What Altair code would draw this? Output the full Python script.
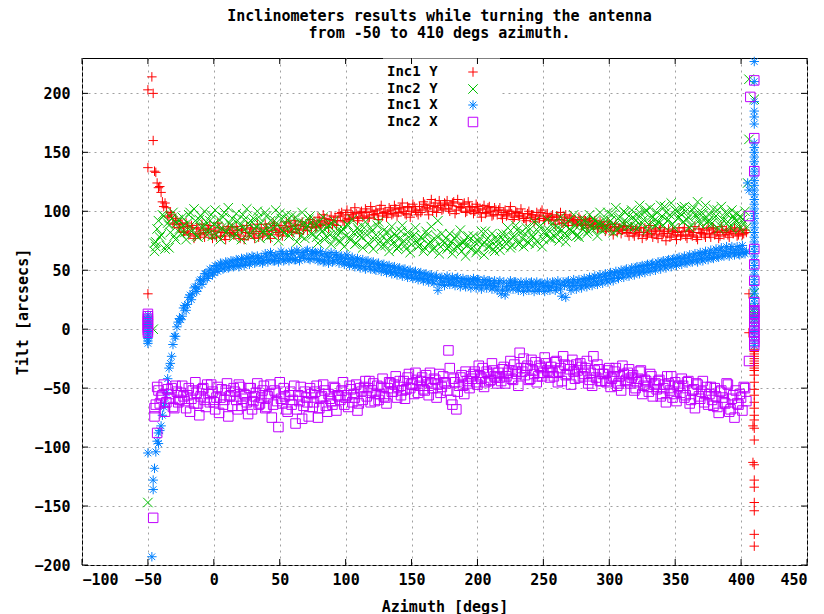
import altair as alt
import pandas as pd

# ---------------- data ----------------
series_names = ["Inc1 Y", "Inc2 Y", "Inc1 X", "Inc2 X"]
series_colors = ["#ff0000", "#00c000", "#0080ff", "#c000ff"]

x_ticks = [-100, -50, 0, 50, 100, 150, 200, 250, 300, 350, 400, 450]
y_ticks = [-200, -150, -100, -50, 0, 50, 100, 150, 200]

# even-degree samples
az_grid = [
    -44, -42, -40, -38, -36, -34, -32, -30, -28, -26,
    -24, -22, -20, -18, -16, -14, -12, -10, -8, -6,
    -4, -2, 0, 2, 4, 6, 8, 10, 12, 14,
    16, 18, 20, 22, 24, 26, 28, 30, 32, 34,
    36, 38, 40, 42, 44, 46, 48, 50, 52, 54,
    56, 58, 60, 62, 64, 66, 68, 70, 72, 74,
    76, 78, 80, 82, 84, 86, 88, 90, 92, 94,
    96, 98, 100, 102, 104, 106, 108, 110, 112, 114,
    116, 118, 120, 122, 124, 126, 128, 130, 132, 134,
    136, 138, 140, 142, 144, 146, 148, 150, 152, 154,
    156, 158, 160, 162, 164, 166, 168, 170, 172, 174,
    176, 178, 180, 182, 184, 186, 188, 190, 192, 194,
    196, 198, 200, 202, 204, 206, 208, 210, 212, 214,
    216, 218, 220, 222, 224, 226, 228, 230, 232, 234,
    236, 238, 240, 242, 244, 246, 248, 250, 252, 254,
    256, 258, 260, 262, 264, 266, 268, 270, 272, 274,
    276, 278, 280, 282, 284, 286, 288, 290, 292, 294,
    296, 298, 300, 302, 304, 306, 308, 310, 312, 314,
    316, 318, 320, 322, 324, 326, 328, 330, 332, 334,
    336, 338, 340, 342, 344, 346, 348, 350, 352, 354,
    356, 358, 360, 362, 364, 366, 368, 370, 372, 374,
    376, 378, 380, 382, 384, 386, 388, 390, 392, 394,
    396, 398, 400, 402, 404,
]

# odd-degree samples
az_grid_b = [
    -43, -41, -39, -37, -35, -33, -31, -29, -27, -25,
    -23, -21, -19, -17, -15, -13, -11, -9, -7, -5,
    -3, -1, 1, 3, 5, 7, 9, 11, 13, 15,
    17, 19, 21, 23, 25, 27, 29, 31, 33, 35,
    37, 39, 41, 43, 45, 47, 49, 51, 53, 55,
    57, 59, 61, 63, 65, 67, 69, 71, 73, 75,
    77, 79, 81, 83, 85, 87, 89, 91, 93, 95,
    97, 99, 101, 103, 105, 107, 109, 111, 113, 115,
    117, 119, 121, 123, 125, 127, 129, 131, 133, 135,
    137, 139, 141, 143, 145, 147, 149, 151, 153, 155,
    157, 159, 161, 163, 165, 167, 169, 171, 173, 175,
    177, 179, 181, 183, 185, 187, 189, 191, 193, 195,
    197, 199, 201, 203, 205, 207, 209, 211, 213, 215,
    217, 219, 221, 223, 225, 227, 229, 231, 233, 235,
    237, 239, 241, 243, 245, 247, 249, 251, 253, 255,
    257, 259, 261, 263, 265, 267, 269, 271, 273, 275,
    277, 279, 281, 283, 285, 287, 289, 291, 293, 295,
    297, 299, 301, 303, 305, 307, 309, 311, 313, 315,
    317, 319, 321, 323, 325, 327, 329, 331, 333, 335,
    337, 339, 341, 343, 345, 347, 349, 351, 353, 355,
    357, 359, 361, 363, 365, 367, 369, 371, 373, 375,
    377, 379, 381, 383, 385, 387, 389, 391, 393, 395,
    397, 399, 401, 403,
]

inc1y_main = [
    133, 120, 116, 104, 103, 95, 97, 89, 92, 86,
    89, 83, 87, 81, 86, 79, 85, 80, 84, 82,
    85, 80, 84, 78, 86, 82, 79, 84, 81, 86,
    80, 84, 77, 85, 82, 79, 86, 81, 83, 78,
    85, 81, 86, 80, 84, 88, 82, 85, 79, 86,
    84, 87, 82, 88, 85, 89, 84, 87, 90, 86,
    91, 87, 92, 89, 94, 90, 93, 89, 95, 92,
    96, 92, 97, 94, 99, 95, 98, 94, 100, 96,
    99, 95, 100, 97, 98, 102, 96, 100, 98, 101,
    98, 102, 99, 103, 100, 97, 103, 100, 104, 99,
    104, 101, 106, 102, 105, 100, 107, 103, 105, 102,
    106, 102, 105, 108, 101, 104, 103, 107, 100, 104,
    103, 100, 104, 99, 102, 98, 103, 100, 97, 101,
    101, 97, 99, 96, 100, 98, 95, 99, 96, 98,
    94, 98, 95, 97, 93, 96, 99, 94, 96, 93,
    95, 92, 96, 93, 90, 95, 92, 94, 91, 93,
    90, 93, 89, 92, 88, 91, 87, 90, 86, 89,
    88, 85, 89, 84, 87, 83, 86, 84, 87, 82,
    85, 81, 84, 80, 86, 82, 79, 84, 81, 83,
    80, 84, 79, 83, 81, 78, 84, 80, 82, 79,
    83, 79, 84, 80, 82, 78, 85, 81, 80, 84,
    81, 85, 80, 83, 79, 84, 82, 80, 85, 81,
    83, 80, 84, 81, 82,
]
inc1y_b = [
    124, 121, 108, 107, 96, 99, 90, 94, 86, 90,
    82, 90, 80, 88, 77, 86, 81, 89, 78, 85,
    88, 77, 83, 90, 79, 85, 76, 87, 82, 80,
    87, 79, 84, 76, 88, 81, 85, 77, 89, 83,
    79, 89, 83, 77, 90, 84, 80, 88, 83, 91,
    90, 83, 92, 85, 81, 91, 87, 84, 93, 89,
    86, 95, 88, 97, 91, 86, 96, 92, 88, 98,
    99, 91, 101, 93, 97, 103, 92, 99, 95, 102,
    94, 104, 97, 101, 93, 105, 99, 95, 103, 97,
    105, 96, 102, 107, 98, 104, 95, 106, 101, 97,
    99, 108, 103, 97, 110, 104, 99, 109, 101, 107,
    109, 100, 107, 98, 110, 103, 106, 99, 108, 101,
    98, 106, 101, 95, 105, 99, 104, 96, 103, 97,
    103, 94, 101, 97, 104, 93, 100, 96, 102, 94,
    92, 100, 97, 91, 99, 94, 101, 92, 98, 95,
    97, 89, 95, 99, 90, 97, 88, 96, 92, 89,
    95, 88, 93, 86, 94, 89, 92, 85, 91, 87,
    83, 91, 86, 80, 89, 85, 81, 88, 84, 79,
    87, 79, 85, 82, 77, 86, 80, 88, 78, 85,
    77, 86, 81, 75, 85, 79, 83, 76, 86, 80,
    86, 77, 83, 79, 87, 76, 82, 85, 78, 86,
    78, 86, 82, 77, 87, 80, 84, 78, 83, 86,
    79, 85, 80, 84,
]

inc2y_main = [
    74, 92, 80, 96, 71, 88, 94, 79, 90, 85,
    95, 82, 90, 99, 84, 92, 78, 96, 87, 91,
    84, 97, 89, 80, 93, 86, 99, 83, 90, 94,
    81, 92, 88, 97, 85, 90, 79, 94, 87, 95,
    90, 83, 96, 86, 80, 92, 88, 98, 84, 89,
    93, 82, 88, 95, 84, 79, 90, 86, 93, 81,
    87, 78, 91, 83, 76, 86, 80, 89, 77, 84,
    74, 85, 79, 88, 76, 82, 73, 84, 78, 86,
    80, 72, 83, 76, 88, 74, 79, 71, 82, 77,
    73, 79, 70, 83, 75, 68, 78, 72, 80, 74,
    71, 77, 69, 80, 74, 67, 76, 92, 70, 75,
    77, 70, 74, 68, 79, 72, 66, 75, 71, 76,
    69, 74, 67, 77, 72, 83, 70, 75, 68, 78,
    72, 78, 70, 80, 75, 71, 79, 84, 73, 77,
    81, 74, 85, 78, 72, 83, 88, 76, 80, 84,
    77, 86, 81, 75, 84, 89, 79, 85, 82, 88,
    80, 89, 85, 92, 83, 88, 94, 86, 90, 84,
    93, 86, 91, 97, 88, 84, 95, 90, 99, 87,
    88, 95, 92, 86, 98, 93, 101, 89, 96, 92,
    99, 90, 96, 104, 92, 97, 89, 101, 94, 98,
    91, 100, 95, 88, 103, 96, 92, 99, 94, 90,
    97, 90, 95, 101, 88, 93, 99, 91, 86, 96,
    92, 88, 95, 90, 86,
]
inc2y_b = [
    85, 78, 97, 68, 90, 82, 99, 76, 93, 81,
    88, 76, 97, 83, 102, 79, 93, 86, 100, 80,
    92, 79, 101, 87, 76, 95, 82, 103, 88, 78,
    98, 84, 76, 93, 102, 80, 91, 85, 100, 77,
    83, 99, 78, 92, 86, 101, 75, 94, 82, 97,
    79, 96, 85, 74, 91, 99, 77, 88, 96, 80,
    90, 73, 85, 95, 79, 88, 72, 92, 81, 75,
    83, 70, 89, 77, 93, 72, 86, 80, 69, 91,
    73, 86, 68, 80, 91, 70, 84, 75, 66, 87,
    81, 68, 77, 88, 71, 82, 65, 79, 86, 70,
    78, 66, 83, 72, 87, 69, 79, 64, 81, 73,
    68, 81, 64, 77, 70, 84, 73, 62, 79, 68,
    79, 65, 74, 83, 63, 76, 70, 81, 66, 75,
    67, 81, 74, 86, 69, 78, 88, 72, 82, 70,
    86, 73, 80, 91, 75, 87, 70, 83, 93, 77,
    90, 78, 86, 95, 80, 74, 92, 84, 97, 79,
    78, 94, 88, 81, 97, 85, 92, 79, 99, 89,
    85, 99, 92, 82, 103, 94, 87, 100, 91, 96,
    101, 87, 97, 105, 90, 99, 84, 103, 95, 88,
    91, 105, 88, 99, 93, 107, 86, 100, 95, 103,
    104, 93, 86, 101, 97, 108, 89, 98, 105, 92,
    89, 102, 96, 85, 104, 92, 98, 87, 101, 94,
    98, 85, 93, 100,
]

inc1x_main = [
    -104, -88, -82, -66, -54, -33, -23, -6, 2, 9,
    11, 20, 21, 29, 30, 36, 35, 42, 41, 47,
    45, 50, 48, 53, 51, 55, 52, 56, 53, 57,
    54, 58, 55, 59, 56, 60, 57, 61, 57, 60,
    61, 58, 62, 59, 63, 58, 62, 60, 64, 59,
    63, 60, 64, 59, 65, 61, 63, 66, 60, 64,
    60, 64, 59, 63, 58, 62, 61, 57, 63, 59,
    61, 57, 60, 56, 59, 55, 58, 54, 57, 53,
    57, 53, 56, 51, 55, 52, 54, 50, 53, 49,
    52, 48, 51, 47, 50, 46, 49, 45, 48, 44,
    47, 43, 46, 42, 45, 41, 44, 33, 43, 40,
    43, 40, 42, 39, 43, 40, 41, 38, 42, 39,
    41, 38, 42, 37, 40, 38, 41, 37, 39, 36,
    39, 30, 40, 36, 39, 37, 40, 35, 38, 36,
    38, 35, 39, 36, 38, 34, 39, 36, 37, 35,
    36, 39, 35, 38, 28, 37, 40, 36, 39, 37,
    40, 37, 41, 38, 42, 39, 43, 40, 44, 41,
    45, 42, 46, 43, 47, 44, 48, 46, 50, 47,
    50, 48, 52, 49, 53, 50, 54, 51, 55, 52,
    55, 53, 57, 54, 58, 55, 59, 56, 60, 57,
    60, 57, 61, 58, 62, 59, 63, 60, 64, 61,
    64, 61, 65, 62, 67, 63, 66, 64, 68, 65,
    67, 64, 68, 65, 66,
]
inc1x_b = [
    -95, -86, -73, -63, -42, -29, -13, -6, 6, 8,
    18, 16, 27, 25, 35, 32, 41, 38, 47, 43,
    51, 46, 54, 49, 56, 51, 57, 52, 58, 53,
    59, 53, 60, 54, 61, 55, 62, 56, 62, 57,
    56, 64, 57, 65, 58, 63, 57, 66, 58, 64,
    58, 66, 59, 67, 58, 65, 60, 67, 59, 66,
    65, 58, 66, 57, 64, 56, 65, 58, 63, 56,
    62, 55, 63, 54, 61, 53, 60, 52, 59, 51,
    58, 51, 57, 50, 56, 49, 55, 48, 54, 47,
    53, 46, 52, 45, 51, 44, 50, 43, 49, 42,
    48, 41, 47, 40, 46, 39, 45, 38, 44, 37,
    45, 38, 44, 37, 44, 36, 43, 36, 42, 35,
    43, 35, 42, 34, 42, 35, 41, 34, 41, 33,
    41, 34, 29, 33, 41, 34, 40, 33, 40, 32,
    40, 33, 40, 32, 40, 33, 39, 32, 40, 33,
    40, 33, 41, 34, 40, 27, 41, 33, 42, 34,
    42, 35, 43, 36, 44, 37, 45, 38, 46, 39,
    47, 40, 48, 41, 49, 43, 50, 44, 51, 45,
    52, 46, 53, 47, 54, 48, 55, 49, 56, 50,
    57, 51, 58, 52, 59, 53, 60, 54, 61, 55,
    62, 56, 63, 57, 64, 57, 65, 58, 66, 59,
    67, 60, 68, 61, 69, 62, 70, 62, 70, 63,
    70, 63, 71, 64,
]

inc2x_main = [
    -64, -52, -58, -47, -62, -55, -50, -67, -53, -60,
    -48, -61, -56, -70, -52, -45, -63, -57, -50, -66,
    -55, -47, -62, -58, -71, -51, -60, -46, -57, -65,
    -53, -68, -49, -59, -56, -72, -50, -61, -54, -64,
    -58, -48, -66, -55, -75, -52, -61, -45, -63, -57,
    -70, -53, -60, -80, -56, -49, -65, -58, -74, -55,
    -62, -48, -67, -57, -52, -70, -59, -64, -50, -56,
    -60, -45, -58, -66, -51, -55, -47, -63, -53, -49,
    -57, -44, -52, -61, -48, -55, -42, -58, -50, -46,
    -53, -40, -49, -56, -44, -51, -38, -47, -55, -43,
    -48, -41, -52, -45, -37, -50, -43, -47, -54, -40,
    -46, -18, -60, -42, -68, -48, -39, -55, -44, -50,
    -42, -36, -47, -40, -33, -45, -38, -43, -35, -41,
    -37, -44, -32, -40, -35, -42, -30, -38, -20, -36,
    -39, -31, -42, -35, -28, -40, -33, -37, -29, -36,
    -32, -40, -27, -36, -44, -30, -38, -34, -26, -42,
    -35, -29, -40, -33, -46, -37, -23, -41, -34, -44,
    -38, -45, -33, -42, -36, -48, -40, -31, -44, -37,
    -46, -39, -50, -42, -35, -48, -44, -53, -40, -47,
    -51, -43, -55, -47, -40, -52, -58, -45, -49, -54,
    -48, -56, -44, -60, -51, -46, -57, -53, -62, -49,
    -55, -60, -50, -66, -53, -58, -63, -47, -68, -56,
    -52, -64, -58, -49, -61,
]
inc2x_b = [
    -49, -63, -56, -70, -51, -59, -66, -48, -62, -54,
    -57, -67, -50, -59, -63, -54, -73, -51, -60, -47,
    -62, -53, -68, -49, -58, -64, -52, -74, -56, -50,
    -60, -47, -65, -55, -62, -50, -68, -57, -46, -63,
    -52, -67, -57, -47, -64, -54, -83, -59, -50, -68,
    -56, -64, -48, -68, -61, -76, -53, -62, -50, -66,
    -53, -75, -58, -47, -65, -55, -61, -49, -69, -57,
    -52, -64, -56, -48, -62, -58, -69, -50, -60, -44,
    -50, -62, -46, -55, -60, -49, -57, -63, -45, -53,
    -47, -58, -44, -52, -59, -41, -50, -46, -37, -54,
    -44, -51, -39, -56, -46, -42, -58, -38, -49, -45,
    -52, -33, -64, -45, -53, -41, -48, -36, -46, -40,
    -38, -45, -31, -42, -49, -36, -44, -29, -40, -46,
    -41, -34, -46, -37, -27, -43, -36, -48, -33, -25,
    -33, -43, -26, -38, -45, -31, -40, -24, -35, -41,
    -37, -28, -45, -33, -23, -39, -31, -47, -36, -30,
    -41, -32, -38, -27, -43, -48, -35, -30, -44, -38,
    -44, -35, -49, -40, -33, -46, -52, -38, -43, -34,
    -41, -52, -45, -36, -55, -43, -49, -38, -57, -46,
    -44, -57, -50, -62, -46, -40, -55, -61, -48, -42,
    -58, -45, -63, -52, -67, -47, -59, -44, -55, -64,
    -49, -65, -57, -71, -52, -62, -46, -70, -59, -75,
    -63, -55, -69, -50,
]

# spikes at the start (-50 deg) and end (~410 deg) of the rotation
inc1y_extra_az = [-50, -47, -46, -46, -50, -45, -50, -50, -50,
                  406, 406,
                  410, 410, 410, 410, 410, 410, 410, 410, 410, 410,
                  410, 410, 410, 410, 410, 410, 410, 410, 409, 410,
                  410, 409, 410, 410, 410, 410, 410, 410, 410]
inc1y_extra_val = [203, 214, 200, 160, 137, 134, 30, 5, 2,
                   30, -3,
                   -17, -19, -21, -23, -25, -27, -29, -31, -33, -35,
                   -39, -45, -51, -56, -62, -67, -73, -77, -82, -84,
                   -94, -113, -115, -128, -134, -147, -154, -174, -184]

inc2y_extra_az = [-50, -46, -50, -50, -45, -45, -44, -34,
                  406, 406, 405, 410, 410, 410, 410, 410, 410, 410]
inc2y_extra_val = [-147, 0, 8, 4, 66, 73, 70, 69,
                   212, 161, 124, 195, 31, 18, 14, 9, 12, 16]

inc1x_extra_az = [-50, -50, -50, -50, -50, -50, -50, -50, -50, -50, -50, -50, -50,
                  -50, -45, -46, -46, -47, -42,
                  405, 406,
                  410, 410, 410, 410, 410, 410,
                  410, 410, 410, 410, 410, 410, 410, 410, 410, 410,
                  410, 410, 410, 410, 410, 410, 410, 410, 410, 410,
                  410, 410, 410, 410, 410, 410, 410, 410, 410, 410,
                  410, 410, 410, 410, 410, 410, 410, 410, 410, 410,
                  410, 410, 410, 410]
inc1x_extra_val = [12, 10, 8, 6, 4, 2, 0, -2, -4, -6, -8, -10, -12,
                   -105, -118, -128, -136, -193, -97,
                   124, 118,
                   227, 210, 193, 185, 180, 174,
                   158, 154, 150, 146, 142, 138, 134, 130, 126, 122,
                   118, 114, 110, 106, 102, 98, 94, 90, 86, 82,
                   78, 74, 70, 66, 62, 58, 54, 50, 46, 42,
                   38, 34, 30, 26, 22, 18, 14, 10, 6, 2,
                   -2, -6, -10, -14]

inc2x_extra_az = [-50, -50, -50, -50, -50, -50, -50, -50, -50,
                  -45, -45, -43, -46,
                  410, 407, 410, 410, 406, 410, 410, 410, 410, 410, 406,
                  410, 410, 410, 410, 410, 410, 410, 410, 410, 410, 410]
inc2x_extra_val = [13, 11, 9, 7, 5, 3, 1, -1, -3,
                   -67, -74, -88, -160,
                   211, 197, 162, 134, 96, 68, 55, 41, 23, 15, -27,
                   16, 13, 10, 7, 4, 1, -2, -5, -8, -11, -14]

# ---------------- build table ----------------
main_a = [inc1y_main, inc2y_main, inc1x_main, inc2x_main]
main_b = [inc1y_b, inc2y_b, inc1x_b, inc2x_b]
extra_az = [inc1y_extra_az, inc2y_extra_az, inc1x_extra_az, inc2x_extra_az]
extra_val = [inc1y_extra_val, inc2y_extra_val, inc1x_extra_val, inc2x_extra_val]

frames = []
for name, ma, mb, ea, ev in zip(series_names, main_a, main_b, extra_az, extra_val):
    assert len(ma) == len(az_grid), (name, len(ma))
    assert len(mb) == len(az_grid_b), (name, len(mb))
    assert len(ea) == len(ev), (name, len(ea), len(ev))
    frames.append(pd.DataFrame({"az": list(ea) + az_grid + az_grid_b,
                                "tilt": list(ev) + ma + mb,
                                "series": name}))
df = pd.concat(frames, ignore_index=True)

# ---------------- styling ----------------
FONT = "DejaVu Sans Mono"
FS = 15
W, H = 725, 507
MSIZE = 90
shape_paths = [
    "M-1,0L1,0M0,-1L0,1",
    "M-1,-1L1,1M-1,1L1,-1",
    "M-1,0L1,0M0,-1L0,1M-0.7,-0.7L0.7,0.7M-0.7,0.7L0.7,-0.7",
    "M-1,-1L1,-1L1,1L-1,1Z",
]
x_scale = alt.Scale(domain=[-100, 450], nice=False, zero=False)
y_scale = alt.Scale(domain=[-200, 230], nice=False, zero=False)

x_axis = alt.Axis(values=x_ticks, title="Azimuth [degs]", labelPadding=7,
                  titleY=41, titleBaseline="middle", format="d")
y_axis = alt.Axis(values=y_ticks, title="Tilt [arcsecs]", labelPadding=12,
                  titleX=-60, titleY=H / 2, titleBaseline="middle",
                  titleAlign="center", titleAngle=270, format="d")

# white box behind the key (gnuplot blanks the grid there)
key_bg = alt.Chart(pd.DataFrame({"k": [0]})).mark_rect(color="white").encode(
    x=alt.value(301), x2=alt.value(418), y=alt.value(0.5), y2=alt.value(73)
)

points = alt.Chart(df).mark_point(filled=False, size=MSIZE, strokeWidth=1, opacity=1).encode(
    x=alt.X("az:Q", scale=x_scale, axis=x_axis),
    y=alt.Y("tilt:Q", scale=y_scale, axis=y_axis),
    color=alt.Color("series:N", scale=alt.Scale(domain=series_names, range=series_colors), legend=None),
    shape=alt.Shape("series:N", scale=alt.Scale(domain=series_names, range=shape_paths), legend=None),
)

xt = pd.DataFrame({"az": x_ticks})
yt = pd.DataFrame({"tilt": y_ticks})
tick_layers = [
    alt.Chart(xt).mark_rule(color="black", strokeWidth=1).encode(
        x=alt.X("az:Q", scale=x_scale, axis=x_axis), y=alt.value(H), y2=alt.value(H - 6)),
    alt.Chart(xt).mark_rule(color="black", strokeWidth=1).encode(
        x=alt.X("az:Q", scale=x_scale, axis=x_axis), y=alt.value(0), y2=alt.value(6)),
    alt.Chart(yt).mark_rule(color="black", strokeWidth=1).encode(
        y=alt.Y("tilt:Q", scale=y_scale, axis=y_axis), x=alt.value(0), x2=alt.value(6)),
    alt.Chart(yt).mark_rule(color="black", strokeWidth=1).encode(
        y=alt.Y("tilt:Q", scale=y_scale, axis=y_axis), x=alt.value(W), x2=alt.value(W - 6)),
]

key_rows_y = [14, 31, 47, 64]
key_layers = []
for name, col, path, ky in zip(series_names, series_colors, shape_paths, key_rows_y):
    kdf = pd.DataFrame({"label": [name]})
    key_layers.append(
        alt.Chart(kdf).mark_text(font=FONT, fontSize=14, fontWeight="bold", align="left",
                                 baseline="middle", color="black").encode(
            x=alt.value(305), y=alt.value(ky), text="label:N")
    )
    key_layers.append(
        alt.Chart(kdf).mark_point(filled=False, size=MSIZE, strokeWidth=1, opacity=1,
                                  shape=path, color=col).encode(
            x=alt.value(391), y=alt.value(ky))
    )

chart = alt.layer(key_bg, points, *tick_layers, *key_layers).properties(
    width=W, height=H,
    title=alt.TitleParams(
        text=["Inclinometers results while turning the antenna",
              "from -50 to 410 degs azimuth."],
        font=FONT, fontSize=FS, fontWeight="bold", color="black",
        anchor="middle", offset=14, dx=-5, lineHeight=17,
    ),
    padding={"left": 82, "top": 58, "right": 17, "bottom": 49},
    autosize=alt.AutoSizeParams(type="none"),
    background="white",
).configure_view(
    stroke="black", strokeWidth=1
).configure_axis(
    domain=False, ticks=False, tickSize=0, grid=True,
    gridColor="#a0a0a0", gridDash=[2, 4], gridWidth=1,
    labelFont=FONT, labelFontSize=FS, labelFontWeight="bold", labelColor="black",
    titleFont=FONT, titleFontSize=FS, titleFontWeight="bold", titleColor="black",
)

chart.save("out.html", embed_options={"renderer": "svg", "actions": False})
